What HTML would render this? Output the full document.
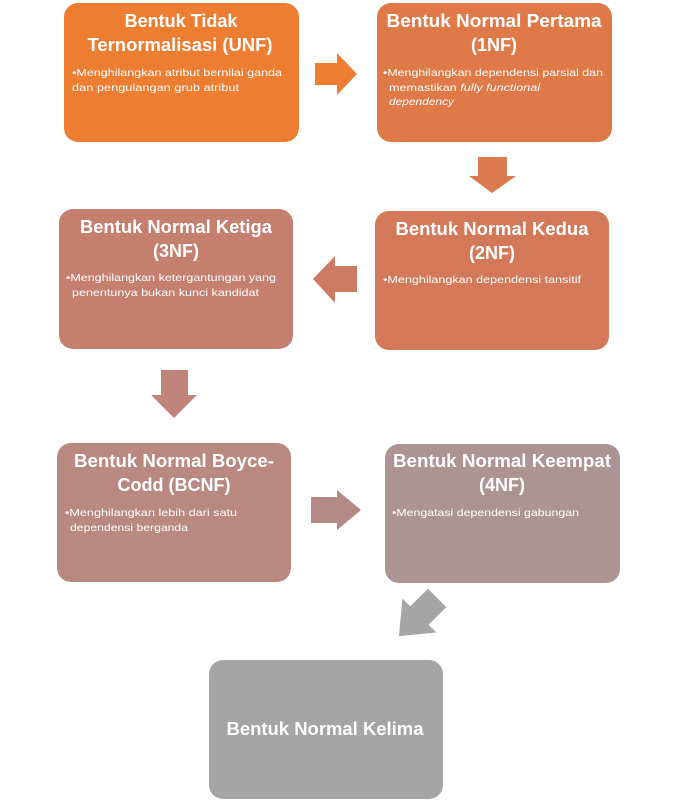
<!DOCTYPE html>
<html><head><meta charset="utf-8"><style>
html,body{margin:0;padding:0;background:#fff;}
svg{display:block;}
text{font-family:"Liberation Sans",sans-serif;fill:#fff;}
.t{font-weight:bold;font-size:18px;text-anchor:middle;}
.b{font-size:10.5px;}
</style></head><body>
<svg width="675" height="801" viewBox="0 0 675 801" xmlns="http://www.w3.org/2000/svg">
<rect x="64" y="3" width="235" height="139" rx="14" fill="#ED7D31"/>
<rect x="377" y="3" width="235" height="139" rx="14" fill="#DF7A48"/>
<rect x="375" y="211" width="234" height="139" rx="14" fill="#D3795A"/>
<rect x="59" y="209" width="234" height="140" rx="14" fill="#C57F6F"/>
<rect x="57" y="443" width="234" height="139" rx="14" fill="#B98880"/>
<rect x="385" y="444" width="235" height="139" rx="14" fill="#AD9494"/>
<rect x="209" y="660" width="234" height="139" rx="14" fill="#A5A5A5"/>
<polygon points="315,63 337,63 337,53 357,74 337,95 337,85 315,85" fill="#ED7D31"/>
<polygon points="478,157 507,157 507,176 516,176 492,193 469,176 478,176" fill="#DA7A4E"/>
<polygon points="357,266 335,266 335,256 313,279 335,303 335,292 357,292" fill="#CD7A62"/>
<polygon points="161,370 188,370 188,395 197,395 174,418 151,395 161,395" fill="#C0847A"/>
<polygon points="311,497 337,497 337,490 361,510 337,530 337,523 311,523" fill="#B48A87"/>
<polygon points="-27,-13 -2,-13 -2,-24 27,0 -2,24 -2,13 -27,13" fill="#A5A5A5" transform="translate(418,617) rotate(135)"/>
<text class="t" x="181" y="27">Bentuk Tidak</text>
<text class="t" x="180" y="51" textLength="185" lengthAdjust="spacingAndGlyphs">Ternormalisasi  (UNF)</text>
<text class="b" x="72" y="76" textLength="210" lengthAdjust="spacingAndGlyphs">•Menghilangkan atribut bernilai ganda</text>
<text class="b" x="72" y="91" textLength="167" lengthAdjust="spacingAndGlyphs">dan pengulangan grub atribut</text>

<text class="t" x="494" y="27" textLength="215" lengthAdjust="spacingAndGlyphs">Bentuk Normal Pertama</text>
<text class="t" x="494" y="51">(1NF)</text>
<text class="b" x="383" y="76" textLength="220" lengthAdjust="spacingAndGlyphs">•Menghilangkan dependensi parsial dan</text>
<text class="b" x="389" y="91" textLength="151" lengthAdjust="spacingAndGlyphs">memastikan <tspan font-style="italic">fully functional</tspan></text>
<text class="b" x="389" y="105" font-style="italic" textLength="65" lengthAdjust="spacingAndGlyphs">dependency</text>

<text class="t" x="492" y="235" textLength="193" lengthAdjust="spacingAndGlyphs">Bentuk Normal Kedua</text>
<text class="t" x="492" y="259">(2NF)</text>
<text class="b" x="383" y="283" textLength="198" lengthAdjust="spacingAndGlyphs">•Menghilangkan dependensi tansitif</text>

<text class="t" x="176" y="233" textLength="192" lengthAdjust="spacingAndGlyphs">Bentuk Normal Ketiga</text>
<text class="t" x="176" y="257">(3NF)</text>
<text class="b" x="66" y="281" textLength="210" lengthAdjust="spacingAndGlyphs">•Menghilangkan ketergantungan yang</text>
<text class="b" x="72" y="296" textLength="187" lengthAdjust="spacingAndGlyphs">penentunya bukan kunci kandidat</text>

<text class="t" x="174" y="467" textLength="200" lengthAdjust="spacingAndGlyphs">Bentuk Normal Boyce-</text>
<text class="t" x="174" y="491">Codd (BCNF)</text>
<text class="b" x="65" y="516" textLength="172" lengthAdjust="spacingAndGlyphs">•Menghilangkan lebih dari satu</text>
<text class="b" x="70" y="531" textLength="118" lengthAdjust="spacingAndGlyphs">dependensi berganda</text>

<text class="t" x="502" y="467" textLength="218" lengthAdjust="spacingAndGlyphs">Bentuk Normal Keempat</text>
<text class="t" x="502" y="491">(4NF)</text>
<text class="b" x="392" y="516" textLength="187" lengthAdjust="spacingAndGlyphs">•Mengatasi dependensi gabungan</text>

<text class="t" x="325" y="735" textLength="197" lengthAdjust="spacingAndGlyphs">Bentuk Normal Kelima</text>
</svg>
</body></html>
